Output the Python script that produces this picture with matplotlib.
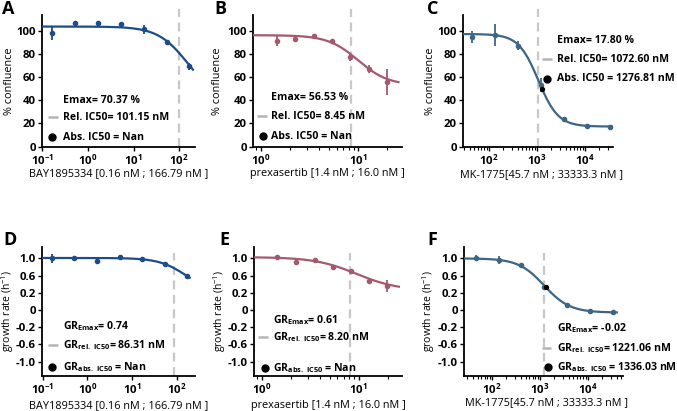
import numpy as np
import matplotlib
matplotlib.use("Agg")
import matplotlib.pyplot as plt
from matplotlib.lines import Line2D

plt.rcParams['font.family'] = ['Open Sans', 'DejaVu Sans']
plt.rcParams['mathtext.fontset'] = 'custom'
plt.rcParams['mathtext.rm'] = 'Open Sans'
plt.rcParams['mathtext.it'] = 'Open Sans'
plt.rcParams['mathtext.bf'] = 'Open Sans:bold'
plt.rcParams['mathtext.default'] = 'regular'
plt.rcParams['axes.unicode_minus'] = False

# ---------------- data ----------------
bay_dose = [0.16, 0.51, 1.63, 5.20, 16.6, 52.9, 166.79]
prex_dose = [1.45, 2.25, 3.5, 5.4, 8.3, 12.8, 19.8]
mk_dose = [45.7, 137.2, 411.5, 1234.6, 3703.7, 11111.1, 33333.3]

conf_bay = [98.5, 107, 107, 106, 101.5, 91, 69.5]
conf_bay_err = [6, 0, 0, 1, 4, 1, 3]
conf_prex = [91.3, 93.3, 96.2, 91.3, 77.4, 67.2, 56.0]
conf_prex_err = [4.5, 3, 1, 1, 3, 3.5, 11]
conf_mk = [94.8, 96.8, 87.5, 53.0, 24.0, 17.5, 17.0]
conf_mk_err = [5.5, 9.5, 4, 6, 1, 1, 1]

gr_bay = [1.0, 1.02, 0.94, 1.04, 0.98, 0.86, 0.58]
gr_bay_err = [0.1, 0.01, 0.02, 0.02, 0.05, 0.02, 0.04]
gr_prex = [1.04, 0.91, 0.96, 0.80, 0.70, 0.47, 0.36]
gr_prex_err = [0.04, 0.02, 0.02, 0.02, 0.02, 0.02, 0.13]
gr_mk = [1.02, 0.96, 0.84, 0.33, -0.08, -0.22, -0.25]
gr_mk_err = [0.05, 0.1, 0.04, 0.06, 0.01, 0.01, 0.01]

# fitted 4PL parameters: top, bottom, ec50, hill
fit_conf_bay = [104, 40, 155, 1.32]
fit_conf_prex = [96.5, 53, 10.0, 2.8]
fit_conf_mk = [97.5, 17.3, 1072.6, 2.1]
fit_gr_bay = [1.01, 0.2, 158, 1.43]
fit_gr_prex = [1.03, 0.25, 9.5, 2.0]
fit_gr_mk = [1.0, -0.26, 1221.06, 1.62]

rel_ic50 = [101.15, 8.45, 1072.60, 86.31, 8.20, 1221.06]
abs_ic50 = [None, None, 1276.81, None, None, 1336.03]

emax_text = ["Emax= 70.37 %", "Emax= 56.53 %", "Emax= 17.80 %",
             r"GR$_{\mathbf{Emax}}$= 0.74", r"GR$_{\mathbf{Emax}}$= 0.61",
             r"GR$_{\mathbf{Emax}}$= -0.02"]
rel_text = ["Rel. IC50= 101.15 nM", "Rel. IC50= 8.45 nM", "Rel. IC50= 1072.60 nM",
            r"GR$_{\mathbf{rel.\ IC50}}$= 86.31 nM", r"GR$_{\mathbf{rel.\ IC50}}$= 8.20 nM",
            r"GR$_{\mathbf{rel.\ IC50}}$= 1221.06 nM"]
abs_text = ["Abs. IC50 = Nan", "Abs. IC50 = Nan", "Abs. IC50 = 1276.81 nM",
            r"GR$_{\mathbf{abs.\ IC50}}$ = Nan", r"GR$_{\mathbf{abs.\ IC50}}$ = Nan",
            r"GR$_{\mathbf{abs.\ IC50}}$ = 1336.03 nM"]
xlabels = ["BAY1895334 [0.16 nM ; 166.79 nM ]", "prexasertib [1.4 nM ; 16.0 nM ]",
           "MK-1775[45.7 nM ; 33333.3 nM ]"] * 2
letters = ["A", "B", "C", "D", "E", "F"]

xtick_vals = [[0.1, 1, 10, 100], [1, 10], [100, 1000, 10000]] * 2
xtick_labels = [[r"$\mathbf{10^{-1}}$", r"$\mathbf{10^{0}}$", r"$\mathbf{10^{1}}$", r"$\mathbf{10^{2}}$"],
                [r"$\mathbf{10^{0}}$", r"$\mathbf{10^{1}}$"],
                [r"$\mathbf{10^{2}}$", r"$\mathbf{10^{3}}$", r"$\mathbf{10^{4}}$"]] * 2
conf_ticks = [0, 20, 40, 60, 80, 100]
gr_ticks = [1.0, 0.6, 0.2, -0.2, -0.6, -1.0, -1.4]
gr_ticklabels = ["1.0", "0.6", "0.2", "0", "-0.2", "-0.6", "-1.0"]

# ---------------- style / layout ----------------
c_bay = "#1c4d8a"
c_prex = "#a5596f"
c_mk = "#3d6585"
colors = [c_bay, c_prex, c_mk] * 2
W, H = 677, 411

def rect(l, r, t, b):
    return [l / W, 1 - b / H, (r - l) / W, (b - t) / H]

rects = [rect(42, 195, 15, 146.5), rect(253, 402, 15, 146.5), rect(463, 613, 15, 146.5),
         rect(42, 195, 247, 376), rect(254, 402, 247, 376), rect(464, 623, 247, 376)]
xlims = [(0.098, 222), (0.83, 28.3), (29, 38500), (0.097, 250), (0.83, 28), (26, 54000)]
curve_end = [200, 26, 37000, 190, 26, 40000]
doses = [bay_dose, prex_dose, mk_dose] * 2
vals = [conf_bay, conf_prex, conf_mk, gr_bay, gr_prex, gr_mk]
errs = [conf_bay_err, conf_prex_err, conf_mk_err, gr_bay_err, gr_prex_err, gr_mk_err]
fits = [fit_conf_bay, fit_conf_prex, fit_conf_mk, fit_gr_bay, fit_gr_prex, fit_gr_mk]

# legend positions (axes fraction): text x, handle x0,x1, dot x, y emax, y rel, y abs
leg = [
    (0.137, 0.04, 0.12, 0.065, 0.351, 0.221, 0.069),
    (0.120, 0.027, 0.11, 0.067, 0.370, 0.230, 0.077),
    (0.627, 0.527, 0.60, 0.560, 0.808, 0.662, 0.515),
    (0.137, 0.04, 0.12, 0.065, 0.383, 0.242, 0.070),
    (0.128, 0.03, 0.12, 0.074, 0.430, 0.300, 0.060),
    (0.585, 0.49, 0.55, 0.530, 0.370, 0.220, 0.070),
]
ylab_x = [-0.176, -0.20, -0.18, -0.17, -0.175, -0.17]
xlab_y = [-0.163, -0.163, -0.175, -0.186, -0.186, -0.163]
letter_pos = [(2, 14), (214, 14), (427, 14), (3, 245), (219, 245), (427, 245)]

def fourpl(x, p):
    top, bot, ec, h = p
    return bot + (top - bot) / (1 + (x / ec) ** h)

fig = plt.figure(figsize=(6.77, 4.11), dpi=100)
FS_ann = 7.6
FS_lab = 7.8
FS_tick = 8.2

for i in range(6):
    ax = fig.add_axes(rects[i])
    col = colors[i]
    ax.set_xscale('log')
    ax.set_xlim(*xlims[i])
    ax.set_xticks(xtick_vals[i], labels=xtick_labels[i])
    top_row = i < 3
    if top_row:
        ax.set_ylim(0, 114)
        ax.set_yticks(conf_ticks)
        ax.set_ylabel("% confluence", fontsize=FS_lab, fontweight='medium')
        vtop = 119.5
    else:
        ax.set_ylim(-1.735, 1.265)
        ax.set_yticks(gr_ticks, labels=gr_ticklabels)
        ax.set_ylabel("growth rate (h$^{-1}$)", fontsize=FS_lab - 0.3, fontweight='medium')
        vtop = 1.12
    ax.yaxis.set_label_coords(ylab_x[i], 0.5)
    ax.set_xlabel(xlabels[i], fontsize=FS_lab, fontweight='medium')
    ax.xaxis.set_label_coords(0.5 if i % 3 != 2 else 0.52, xlab_y[i])
    for s in ['top', 'right']:
        ax.spines[s].set_visible(False)
    for s in ['left', 'bottom']:
        ax.spines[s].set_linewidth(1.3)
    ax.tick_params(axis='both', which='major', length=3, width=1.0, pad=1.5)
    ax.tick_params(axis='x', which='minor', length=2, width=0.8)
    for lab in ax.get_xticklabels() + ax.get_yticklabels():
        lab.set_fontsize(FS_tick)
        lab.set_fontweight('bold')

    # dashed IC50 line
    ax.plot([rel_ic50[i], rel_ic50[i]], [ax.get_ylim()[0], vtop], color="#c8c8c8",
            lw=1.6, ls=(0, (4, 2.5)), clip_on=False, zorder=1)

    # fitted curve
    xs = np.geomspace(xlims[i][0], curve_end[i], 300)
    ax.plot(xs, fourpl(xs, fits[i]), color=col, lw=1.6, zorder=3)
    # data points with error bars
    ax.errorbar(doses[i], vals[i], yerr=errs[i], fmt='o', color=col, ms=3,
                elinewidth=1.3, capsize=0, zorder=4)
    if abs_ic50[i] is not None:
        ax.plot([abs_ic50[i]], [fourpl(abs_ic50[i], fits[i])], 'o', color='black',
                ms=2.8, zorder=5)

    # legend-like annotations
    tx, hx0, hx1, dx, ye, yr, ya = leg[i]
    tkw = dict(transform=ax.transAxes, fontsize=FS_ann, fontweight='bold',
               va='center', ha='left', clip_on=False)
    ax.text(tx, ye, emax_text[i], **tkw)
    ax.text(tx, yr, rel_text[i], **tkw)
    ax.text(tx, ya, abs_text[i], **tkw)
    ax.add_line(Line2D([hx0, hx1], [yr, yr], transform=ax.transAxes, color="#b4b4b4",
                       lw=1.8, ls=(0, (4, 1.5, 1, 1.5)), clip_on=False))
    ax.add_line(Line2D([dx], [ya], transform=ax.transAxes, marker='o', color='black',
                       ms=5, ls='none', clip_on=False))

    lx, ly = letter_pos[i]
    fig.text(lx / W, 1 - ly / H, letters[i], fontsize=13, fontweight='bold',
             ha='left', va='baseline')

fig.savefig("out.png", dpi=100)
